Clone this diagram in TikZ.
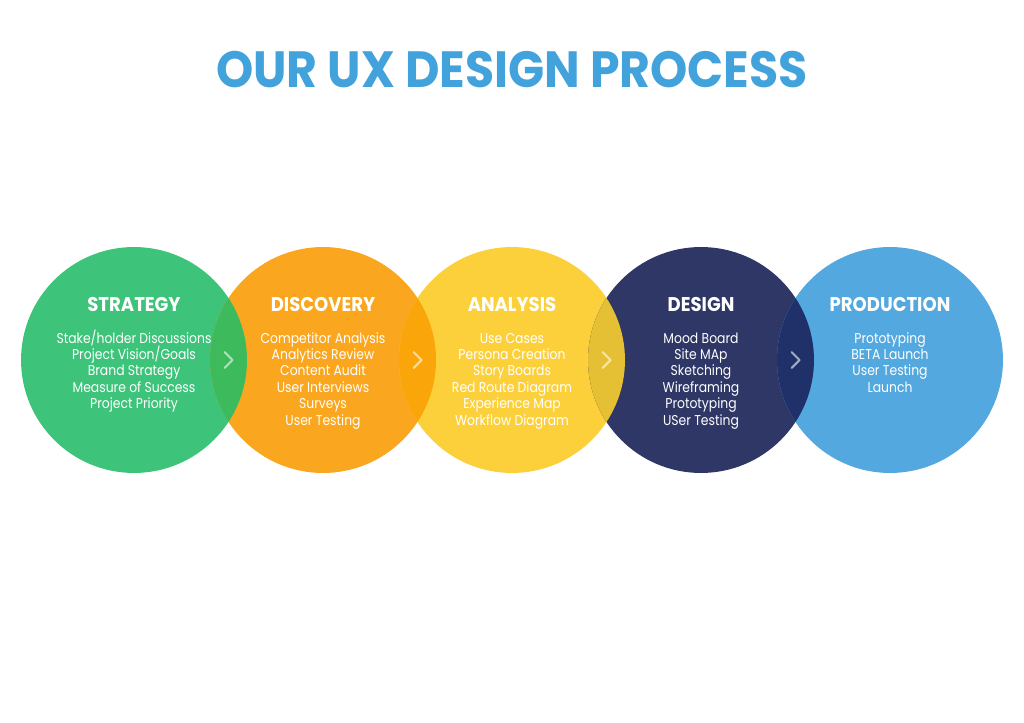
\documentclass[tikz,border=0pt]{standalone}
\usepackage{fontspec}
\setmainfont{Poppins}
\newfontfamily\titlefont{Poppins}[FakeStretch=0.93]
\newfontfamily\headfont{Poppins}[FakeStretch=0.91]
\newfontfamily\itemfont{Poppins}[FakeStretch=0.87]
\usepackage{tikz}
\usetikzlibrary{calc,positioning}
\definecolor{mytitle}{RGB}{66,162,220}
\definecolor{mygreen}{RGB}{61,196,122}
\definecolor{myorange}{RGB}{250,166,30}
\definecolor{myyellow}{RGB}{252,208,58}
\definecolor{mynavy}{RGB}{46,55,102}
\definecolor{myblue}{RGB}{83,168,223}
\definecolor{lensgo}{RGB}{61,186,92}
\definecolor{lensoy}{RGB}{250,165,10}
\definecolor{lensyn}{RGB}{230,192,52}
\definecolor{lensnb}{RGB}{32,48,104}
\tikzstyle{phase}=[circle,minimum size=4.52cm,inner sep=0pt,outer sep=0pt]

\begin{document}
\begin{tikzpicture}[
  x=0.02cm, y=-0.02cm,
  title/.style={text=mytitle,font=\titlefont\bfseries\fontsize{29}{30}\selectfont,anchor=base},
  head/.style={text=white,font=\headfont\bfseries\fontsize{11.3}{12}\selectfont,anchor=base},
  item/.style={text=white,font=\itemfont\fontsize{8.1}{9}\selectfont,anchor=base,inner sep=0pt},
  chevron/.style={draw=white,draw opacity=0.6,line width=1.2pt,line cap=round,line join=round}
]
\useasboundingbox (0,0) rectangle (1024,723);

\node[title] (title) at (512,88) {OUR UX DESIGN PROCESS};

% the five phases
\foreach \n/\x/\c in {1/134/mygreen, 2/323/myorange, 3/512/myyellow, 4/701/mynavy, 5/890/myblue}
  \node[phase,fill=\c] (s\n) at (\x,360) {};

% overlaps
\foreach \a/\b/\c in {1/2/lensgo, 2/3/lensoy, 3/4/lensyn, 4/5/lensnb}
{
  \begin{scope}
    \clip (s\a.center) circle[radius=2.26cm];
    \fill[\c] (s\b.center) circle[radius=2.26cm];
  \end{scope}
  \coordinate (m\a) at ($(s\a)!0.5!(s\b)$);
  \draw[chevron] ($(m\a)+(-4,-8)$) -- ($(m\a)+(4,0)$) -- ($(m\a)+(-4,8)$);
}

% headings
\foreach \n/\h in {1/STRATEGY, 2/DISCOVERY, 3/ANALYSIS, 4/DESIGN, 5/PRODUCTION}
  \node[head] (h\n) at ($(s\n)+(0,-49)$) {\h};

% lists
\foreach \t [count=\i from 0] in {Stake/holder Discussions, Project Vision/Goals, Brand Strategy, Measure of Success, Project Priority}
  \node[item] (a\i) at ($(s1)+(0,-17+16.4*\i)$) {\t};
\foreach \t [count=\i from 0] in {Competitor Analysis, Analytics Review, Content Audit, User Interviews, Surveys, User Testing}
  \node[item] (b\i) at ($(s2)+(0,-17+16.4*\i)$) {\t};
\foreach \t [count=\i from 0] in {Use Cases, Persona Creation, Story Boards, Red Route Diagram, Experience Map, Workflow Diagram}
  \node[item] (c\i) at ($(s3)+(0,-17+16.4*\i)$) {\t};
\foreach \t [count=\i from 0] in {Mood Board, Site MAp, Sketching, Wireframing, Prototyping, USer Testing}
  \node[item] (d\i) at ($(s4)+(0,-17+16.4*\i)$) {\t};
\foreach \t [count=\i from 0] in {Prototyping, BETA Launch, User Testing, Launch}
  \node[item] (e\i) at ($(s5)+(0,-17+16.4*\i)$) {\t};

\end{tikzpicture}
\end{document}
